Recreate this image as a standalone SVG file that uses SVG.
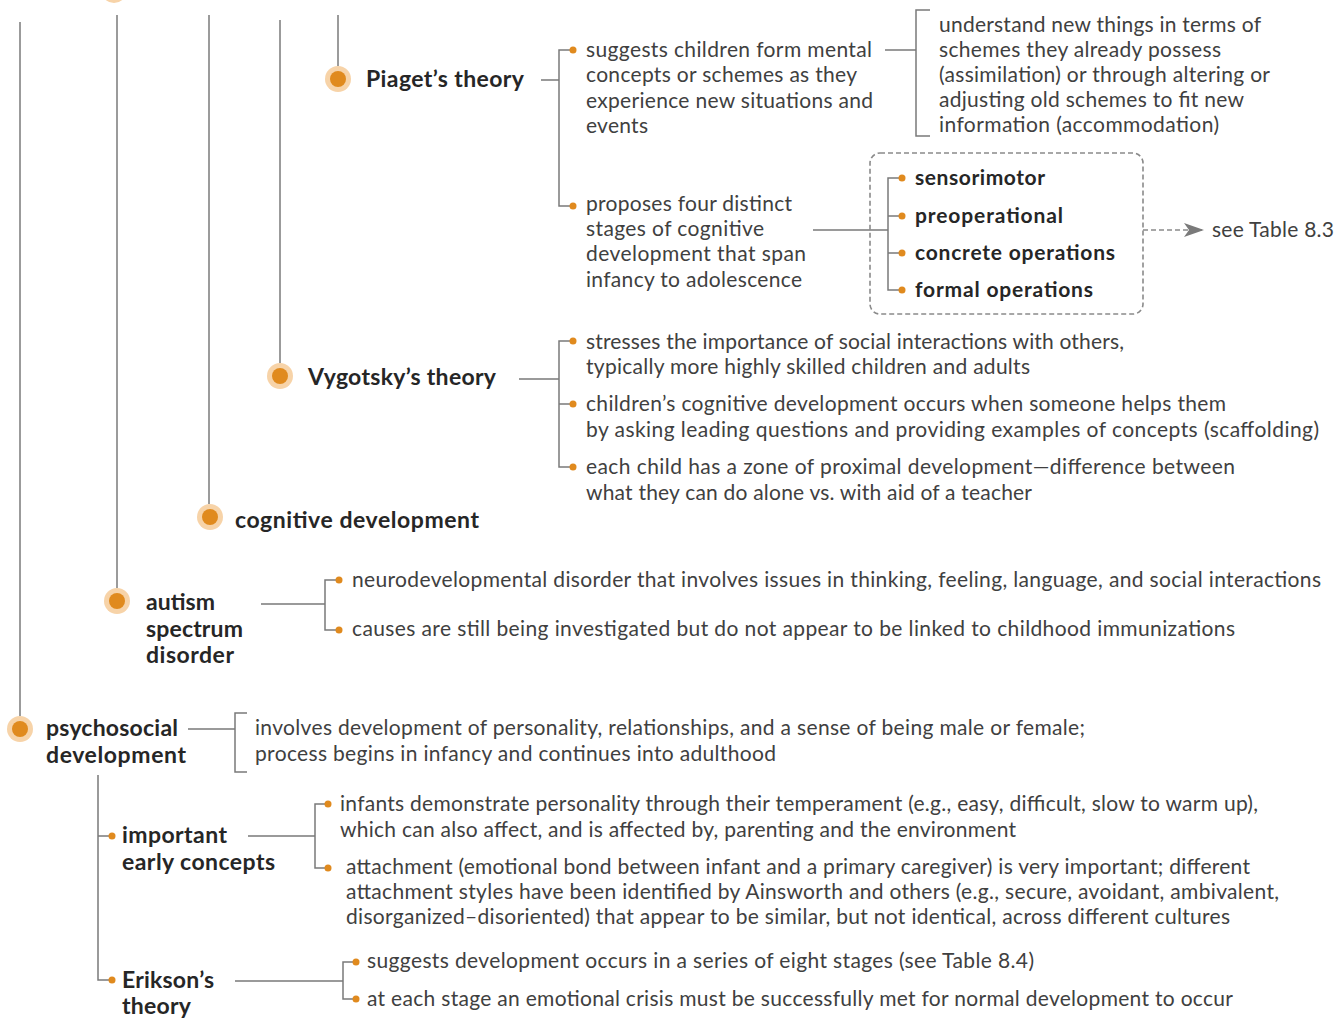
<svg xmlns="http://www.w3.org/2000/svg" width="1344" height="1018" viewBox="0 0 1344 1018">
<defs>
<style>
.ln{stroke:#7a7a7a;stroke-width:1.5;fill:none}
.dl{stroke:#8a8a8a;stroke-width:1.6;fill:none;stroke-dasharray:5 3}
.ring{fill:#f7d3a8}
.core{fill:#e08a1e}
.bd{fill:#e08a1e}
.t{font-family:Lato,"Open Sans",sans-serif;font-size:21px;fill:#404040}
.h{font-family:Lato,"Open Sans",sans-serif;font-size:23px;font-weight:bold;fill:#262626}
.s{font-family:Lato,"Open Sans",sans-serif;font-size:21px;font-weight:bold;fill:#262626}
</style>
<marker id="arr" viewBox="0 0 20 14" refX="18" refY="7" markerWidth="20" markerHeight="14" markerUnits="userSpaceOnUse" orient="auto">
<path d="M0,0 L20,7 L0,14 L5,7 Z" fill="#7a7a7a"/>
</marker>
</defs>
<rect width="1344" height="1018" fill="#ffffff"/>

<g id="connectors">
<line class="ln" x1="20" y1="22" x2="20" y2="716"/>
<line class="ln" x1="117" y1="15" x2="117" y2="588"/>
<line class="ln" x1="209" y1="15" x2="209" y2="504"/>
<line class="ln" x1="280" y1="20" x2="280" y2="363"/>
<line class="ln" x1="338" y1="15" x2="338" y2="66"/>
<path class="ln" d="M541,80 H559 M570,50 H559 V206 H570"/>
<path class="ln" d="M885,50 H916 M930,10 H916 V136 H930"/>
<path class="ln" d="M813,230 H888 M900,178 H888 V290 H900 M888,216 H900 M888,253 H900"/>
<rect class="dl" x="870" y="153" width="273" height="161" rx="10"/>
<line class="dl" x1="1143" y1="230" x2="1202" y2="230" marker-end="url(#arr)"/>
<path class="ln" d="M519,379 H559 M570,341 H559 V467 H570 M559,404 H570"/>
<path class="ln" d="M261,604 H325 M336,580 H325 V630 H336"/>
<path class="ln" d="M188,729 H235 M247,713 H235 V772 H247"/>
<path class="ln" d="M98,775 V980 H109 M98,836 H109"/>
<path class="ln" d="M248,836 H315 M326,804 H315 V868 H326"/>
<path class="ln" d="M235,981 H343 M353,962 H343 V999 H353"/>
<circle class="bd" cx="573" cy="50" r="3.5"/>
<circle class="bd" cx="573" cy="206" r="3.5"/>
<circle class="bd" cx="902" cy="178" r="3.5"/>
<circle class="bd" cx="902" cy="216" r="3.5"/>
<circle class="bd" cx="902" cy="253" r="3.5"/>
<circle class="bd" cx="902" cy="290" r="3.5"/>
<circle class="bd" cx="573" cy="341" r="3.5"/>
<circle class="bd" cx="573" cy="404" r="3.5"/>
<circle class="bd" cx="573" cy="467" r="3.5"/>
<circle class="bd" cx="339" cy="580" r="3.5"/>
<circle class="bd" cx="339" cy="630" r="3.5"/>
<circle class="bd" cx="112" cy="836" r="3.5"/>
<circle class="bd" cx="112" cy="980" r="3.5"/>
<circle class="bd" cx="328" cy="804" r="3.5"/>
<circle class="bd" cx="328" cy="868" r="3.5"/>
<circle class="bd" cx="356" cy="962" r="3.5"/>
<circle class="bd" cx="356" cy="999" r="3.5"/>
</g>

<g id="top-node"><circle class="ring" cx="114" cy="-10" r="13"/></g>

<g id="piaget">
<circle class="ring" cx="338" cy="79" r="13"/><circle class="core" cx="338" cy="79" r="8"/>
<text class="h" x="366" y="87" textLength="158">Piaget’s theory</text>
</g>
<g id="piaget-1">
<text class="t" x="586" y="57" textLength="286">suggests children form mental</text>
<text class="t" x="586" y="82" textLength="271">concepts or schemes as they</text>
<text class="t" x="586" y="108" textLength="287">experience new situations and</text>
<text class="t" x="586" y="133" textLength="62">events</text>
</g>
<g id="piaget-1a">
<text class="t" x="939" y="32" textLength="322">understand new things in terms of</text>
<text class="t" x="939" y="57" textLength="282">schemes they already possess</text>
<text class="t" x="939" y="82" textLength="331">(assimilation) or through altering or</text>
<text class="t" x="939" y="107" textLength="305">adjusting old schemes to fit new</text>
<text class="t" x="939" y="132" textLength="280">information (accommodation)</text>
</g>
<g id="piaget-2">
<text class="t" x="586" y="211" textLength="206">proposes four distinct</text>
<text class="t" x="586" y="236" textLength="178">stages of cognitive</text>
<text class="t" x="586" y="261" textLength="220">development that span</text>
<text class="t" x="586" y="287" textLength="216">infancy to adolescence</text>
</g>
<g id="stages">
<text class="s" x="915" y="185" textLength="130">sensorimotor</text>
<text class="s" x="915" y="223" textLength="148">preoperational</text>
<text class="s" x="915" y="260" textLength="200">concrete operations</text>
<text class="s" x="915" y="297" textLength="178">formal operations</text>
</g>
<g id="see-table-83"><text class="t" x="1212" y="237" textLength="122">see Table 8.3</text></g>

<g id="vygotsky">
<circle class="ring" cx="280" cy="376" r="13"/><circle class="core" cx="280" cy="376" r="8"/>
<text class="h" x="308" y="385" textLength="188">Vygotsky’s theory</text>
</g>
<g id="vygotsky-items">
<text class="t" x="586" y="349" textLength="538">stresses the importance of social interactions with others,</text>
<text class="t" x="586" y="374" textLength="444">typically more highly skilled children and adults</text>
<text class="t" x="586" y="411" textLength="640">children’s cognitive development occurs when someone helps them</text>
<text class="t" x="586" y="437" textLength="733">by asking leading questions and providing examples of concepts (scaffolding)</text>
<text class="t" x="586" y="474" textLength="649">each child has a zone of proximal development—difference between</text>
<text class="t" x="586" y="500" textLength="446">what they can do alone vs. with aid of a teacher</text>
</g>

<g id="cognitive">
<circle class="ring" cx="210" cy="517" r="13"/><circle class="core" cx="210" cy="517" r="8"/>
<text class="h" x="235" y="528" textLength="244">cognitive development</text>
</g>

<g id="autism">
<circle class="ring" cx="117" cy="601" r="13"/><circle class="core" cx="117" cy="601" r="8"/>
<text class="h" x="146" y="610" textLength="69">autism</text>
<text class="h" x="146" y="637" textLength="97">spectrum</text>
<text class="h" x="146" y="663" textLength="88">disorder</text>
</g>
<g id="autism-items">
<text class="t" x="352" y="587" textLength="969">neurodevelopmental disorder that involves issues in thinking, feeling, language, and social interactions</text>
<text class="t" x="352" y="636" textLength="883">causes are still being investigated but do not appear to be linked to childhood immunizations</text>
</g>

<g id="psychosocial">
<circle class="ring" cx="20" cy="729" r="13"/><circle class="core" cx="20" cy="729" r="8"/>
<text class="h" x="46" y="736" textLength="132">psychosocial</text>
<text class="h" x="46" y="763" textLength="140">development</text>
</g>
<g id="psychosocial-desc">
<text class="t" x="255" y="735" textLength="830">involves development of personality, relationships, and a sense of being male or female;</text>
<text class="t" x="255" y="761" textLength="521">process begins in infancy and continues into adulthood</text>
</g>

<g id="early-concepts">
<text class="h" x="122" y="843" textLength="105">important</text>
<text class="h" x="122" y="870" textLength="153">early concepts</text>
</g>
<g id="early-items">
<text class="t" x="340" y="811" textLength="918">infants demonstrate personality through their temperament (e.g., easy, difficult, slow to warm up),</text>
<text class="t" x="340" y="837" textLength="676">which can also affect, and is affected by, parenting and the environment</text>
<text class="t" x="346" y="874" textLength="904">attachment (emotional bond between infant and a primary caregiver) is very important; different</text>
<text class="t" x="346" y="899" textLength="933">attachment styles have been identified by Ainsworth and others (e.g., secure, avoidant, ambivalent,</text>
<text class="t" x="346" y="924" textLength="884">disorganized–disoriented) that appear to be similar, but not identical, across different cultures</text>
</g>

<g id="erikson">
<text class="h" x="122" y="988" textLength="92">Erikson’s</text>
<text class="h" x="122" y="1014" textLength="69">theory</text>
</g>
<g id="erikson-items">
<text class="t" x="367" y="968" textLength="667">suggests development occurs in a series of eight stages (see Table 8.4)</text>
<text class="t" x="367" y="1006" textLength="866">at each stage an emotional crisis must be successfully met for normal development to occur</text>
</g>
</svg>
